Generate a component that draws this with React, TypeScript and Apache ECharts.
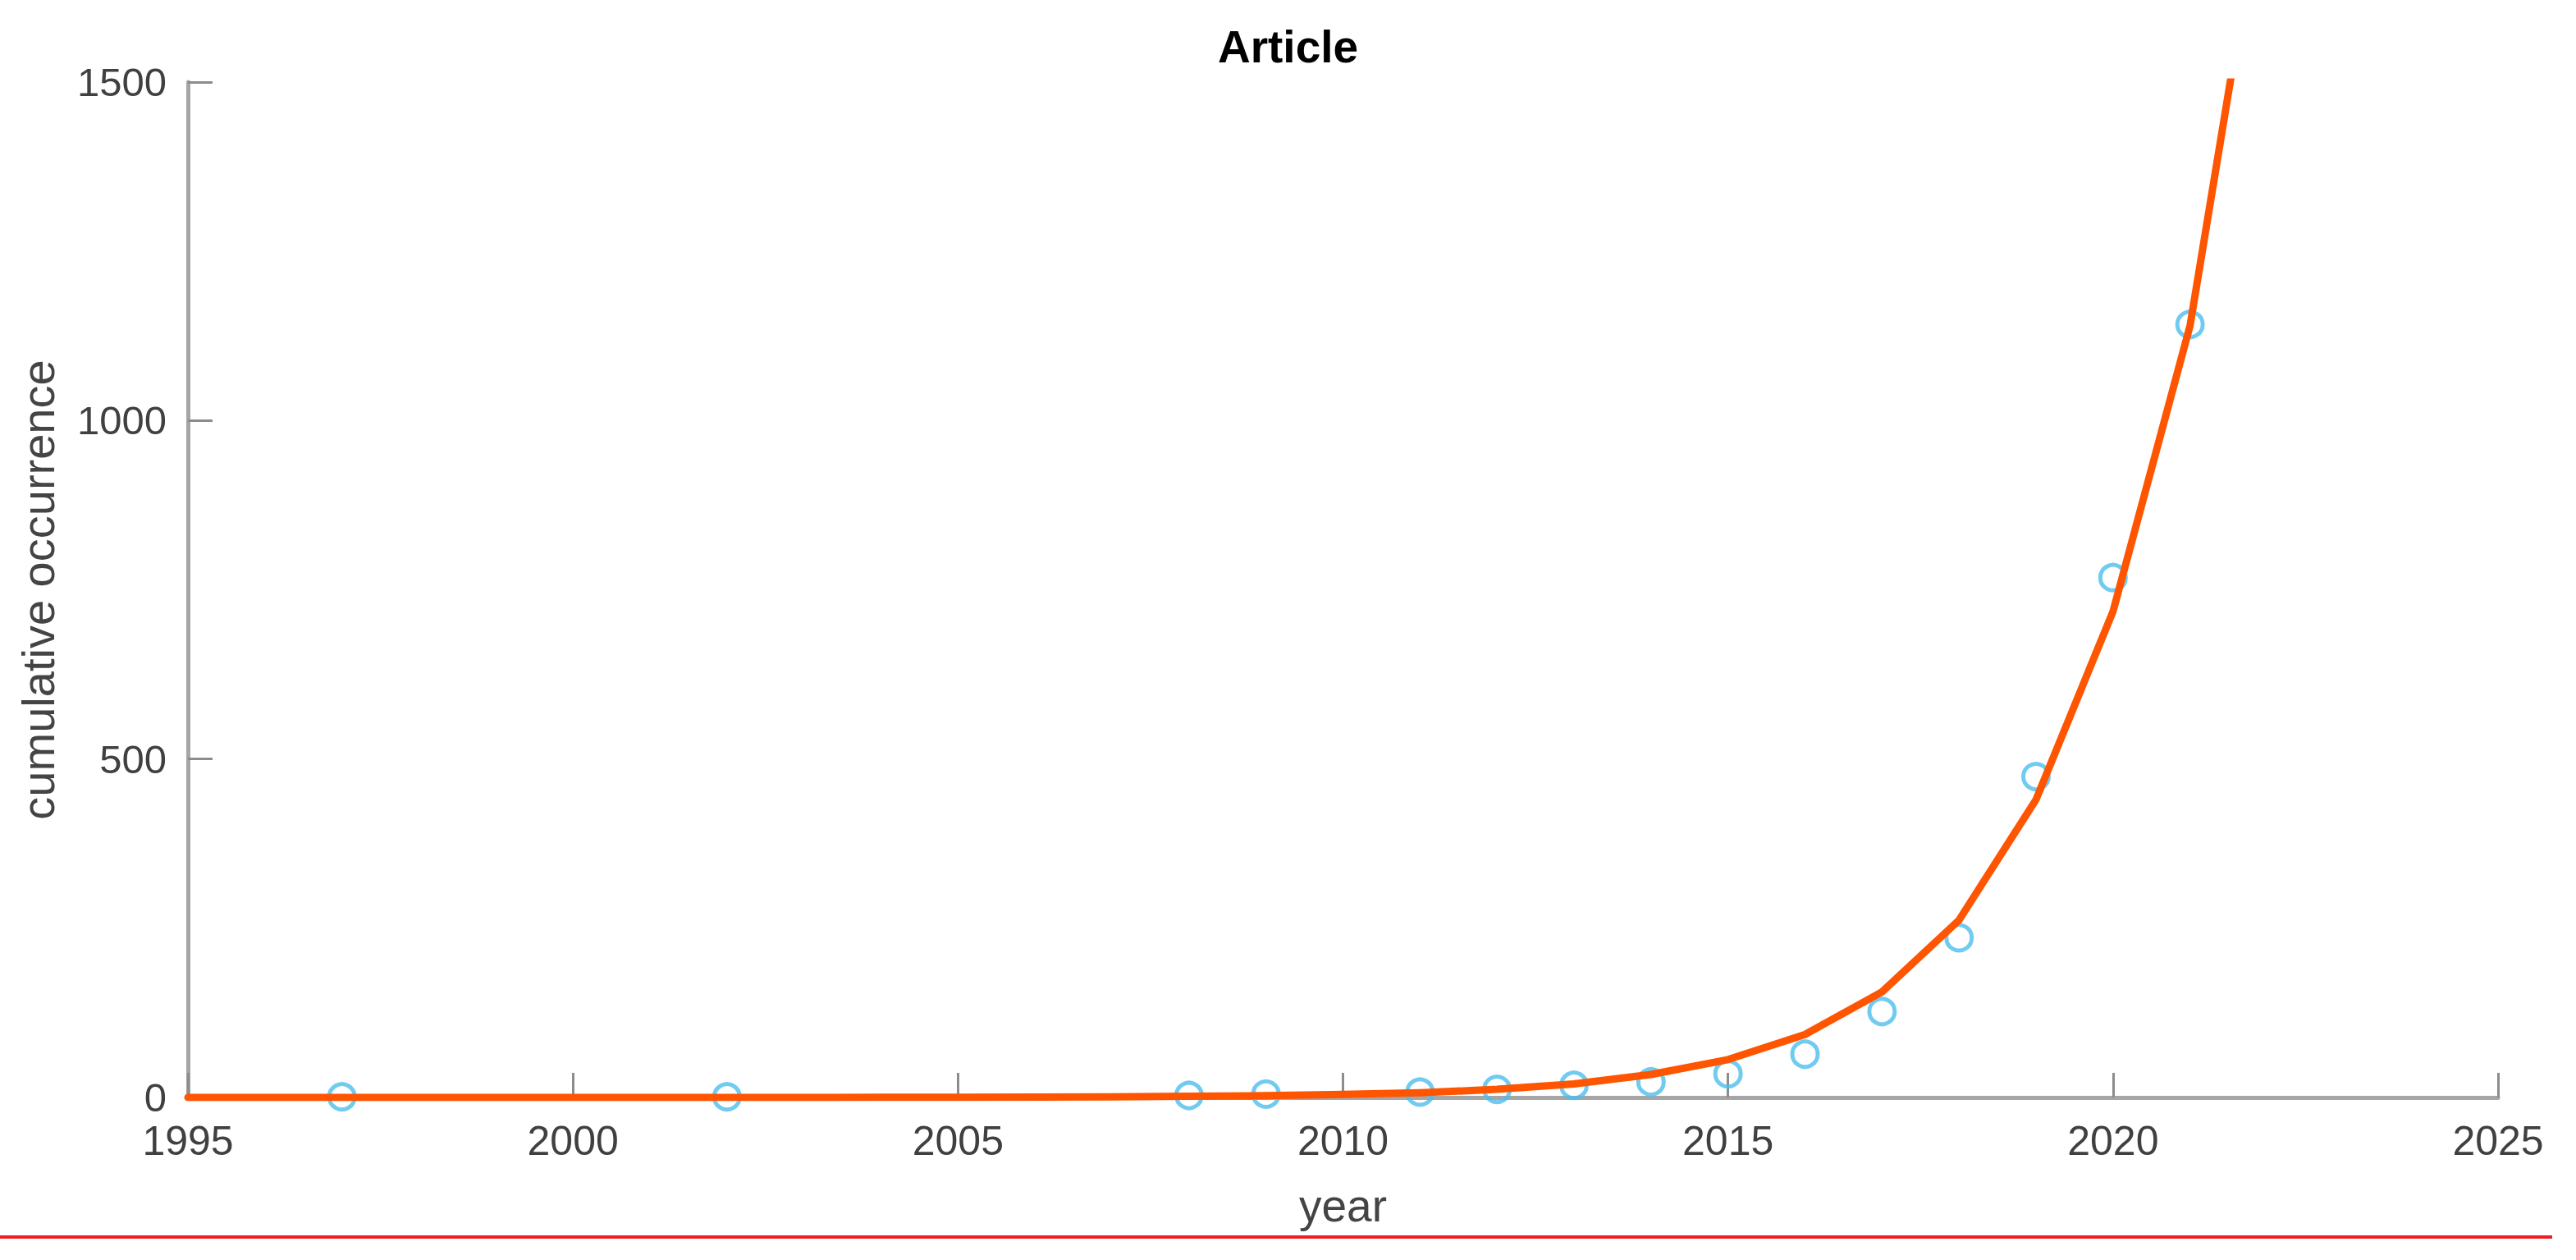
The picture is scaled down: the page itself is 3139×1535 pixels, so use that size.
import React, { useEffect, useRef } from "react";
import * as echarts from "echarts";

// Observed cumulative occurrences (blue circles)
const obsYears = [1997, 2002, 2008, 2009, 2011, 2012, 2013, 2014, 2015, 2016, 2017, 2018, 2019, 2020, 2021];
const obsValues = [1, 1, 3, 5, 8, 12, 18, 23, 35, 64, 127, 236, 474, 768, 1142];

// Fitted curve (orange line), evaluated at integer years
const fitYears = [1995, 1996, 1997, 1998, 1999, 2000, 2001, 2002, 2003, 2004, 2005, 2006, 2007, 2008, 2009, 2010, 2011, 2012, 2013, 2014, 2015, 2016, 2017, 2018, 2019, 2020, 2021, 2022];
const fitValues = [0, 0, 0, 0, 0, 0, 0, 0.1, 0.1, 0.2, 0.4, 0.6, 1.0, 1.7, 2.7, 4.5, 7, 12, 20, 34, 56, 93, 156, 262, 440, 718, 1140, 1830];

const xTicks = [1995, 2000, 2005, 2010, 2015, 2020, 2025];
const yTicks = [0, 500, 1000, 1500];

const FONT = "'Liberation Sans', Arial, Helvetica, sans-serif";

export default function App() {
  const ref = useRef<HTMLDivElement>(null);
  useEffect(() => {
    if (!ref.current) return;
    const chart = echarts.init(ref.current, null, { renderer: "svg" });
    chart.setOption({
      animation: false,
      backgroundColor: "#ffffff",
      title: {
        text: "Article",
        left: "center",
        top: 24,
        textStyle: { fontFamily: FONT, fontSize: 55, fontWeight: "bold", color: "#000000" },
      },
      grid: { left: 229, right: 95, top: 100, bottom: 198, containLabel: false },
      xAxis: {
        type: "value",
        min: xTicks[0],
        max: xTicks[xTicks.length - 1],
        interval: 5,
        name: "year",
        nameLocation: "middle",
        nameGap: 104,
        nameTextStyle: { fontFamily: FONT, fontSize: 55, color: "#444444" },
        axisLine: { show: true, onZero: false, lineStyle: { color: "#a6a6a6", width: 5 } },
        axisTick: { show: true, inside: true, length: 30, lineStyle: { color: "#8c8c8c", width: 3 } },
        axisLabel: { margin: 28, fontFamily: FONT, fontSize: 50, color: "#404040", formatter: (v: number) => String(v) },
        splitLine: { show: false },
      },
      yAxis: {
        type: "value",
        min: yTicks[0],
        max: yTicks[yTicks.length - 1],
        interval: 500,
        name: "cumulative occurrence",
        nameLocation: "middle",
        nameGap: 155,
        nameTextStyle: { fontFamily: FONT, fontSize: 56, color: "#444444" },
        axisLine: { show: true, lineStyle: { color: "#a6a6a6", width: 5 } },
        axisTick: { show: true, inside: true, length: 30, lineStyle: { color: "#8c8c8c", width: 3 } },
        axisLabel: { margin: 26, fontFamily: FONT, fontSize: 49, color: "#404040", formatter: (v: number) => String(v) },
        splitLine: { show: false },
      },
      series: [
        {
          type: "scatter",
          data: obsYears.map((y, i) => [y, obsValues[i]]),
          symbol: "circle",
          symbolSize: 31,
          itemStyle: { color: "rgba(0,0,0,0)", borderColor: "#4DBEEE", borderWidth: 5 },
          z: 2,
        },
        {
          type: "line",
          data: fitYears.map((y, i) => [y, fitValues[i]]),
          showSymbol: false,
          symbol: "none",
          clip: true,
          lineStyle: { color: "#FF5500", width: 9, join: "round", cap: "round" },
          z: 3,
        },
      ],
      graphic: [
        {
          type: "line",
          shape: { x1: 0, y1: 1507, x2: 3110, y2: 1507 },
          style: { stroke: "#ee1c25", lineWidth: 4 },
        },
      ],
    });
    return () => chart.dispose();
  }, []);
  return (
    <div
      ref={ref}
      style={{ position: "fixed", left: 0, top: 0, width: 3139, height: 1535, background: "#fff" }}
    />
  );
}
